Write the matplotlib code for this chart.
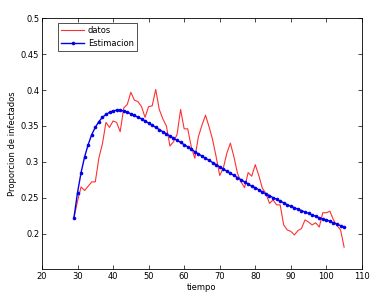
import matplotlib
matplotlib.use("Agg")
import matplotlib.pyplot as plt

tiempo = list(range(29, 106))
datos = [0.222, 0.245, 0.265, 0.260, 0.266, 0.272, 0.272, 0.305, 0.325, 0.355,
         0.348, 0.357, 0.355, 0.342, 0.375, 0.380, 0.397, 0.386, 0.384, 0.377,
         0.362, 0.377, 0.378, 0.401, 0.373, 0.360, 0.350, 0.322, 0.328, 0.338,
         0.373, 0.346, 0.346, 0.321, 0.305, 0.335, 0.351, 0.365, 0.349, 0.331,
         0.307, 0.281, 0.291, 0.312, 0.326, 0.307, 0.284, 0.272, 0.264, 0.285,
         0.280, 0.296, 0.281, 0.263, 0.256, 0.242, 0.247, 0.240, 0.240, 0.212,
         0.205, 0.203, 0.198, 0.204, 0.207, 0.219, 0.216, 0.212, 0.215, 0.209,
         0.229, 0.229, 0.231, 0.219, 0.211, 0.205, 0.181]
estimacion = [0.222, 0.257, 0.285, 0.307, 0.324, 0.338, 0.348, 0.356, 0.362, 0.366,
              0.369, 0.371, 0.372, 0.372, 0.371, 0.369, 0.367, 0.365, 0.362, 0.360,
              0.357, 0.354, 0.351, 0.348, 0.345, 0.342, 0.339, 0.336, 0.333, 0.330,
              0.327, 0.324, 0.321, 0.318, 0.314, 0.311, 0.308, 0.305, 0.302, 0.299,
              0.296, 0.293, 0.290, 0.287, 0.284, 0.281, 0.278, 0.275, 0.272, 0.269,
              0.266, 0.264, 0.261, 0.258, 0.255, 0.253, 0.250, 0.248, 0.245, 0.243,
              0.240, 0.238, 0.236, 0.234, 0.232, 0.230, 0.228, 0.226, 0.224, 0.222,
              0.220, 0.219, 0.217, 0.215, 0.213, 0.211, 0.209]
xticks = [20, 30, 40, 50, 60, 70, 80, 90, 100, 110]
yticks = [0.2, 0.25, 0.3, 0.35, 0.4, 0.45, 0.5]

fig = plt.figure(figsize=(3.85, 2.97), dpi=100)
ax = fig.add_axes([0.109, 0.093, 0.831, 0.845])
ax.plot(tiempo, datos, color='#ff3030', lw=0.8, label='datos')
ax.plot(tiempo, estimacion, color='#0000ee', lw=1.0, marker='o', markersize=2.6,
        markeredgewidth=0, label='Estimacion')
ax.set_xlim(20, 110)
ax.set_ylim(0.15, 0.5)
ax.set_xticks(xticks)
ax.set_yticks(yticks)
ax.set_yticklabels(['0.2', '0.25', '0.3', '0.35', '0.4', '0.45', '0.5'])
ax.tick_params(direction='in', top=True, right=True, labelsize=6, length=3, width=0.5, pad=2)
for s in ax.spines.values():
    s.set_linewidth(0.6)
ax.set_xlabel('tiempo', fontsize=6, labelpad=1)
ax.set_ylabel('Proporcion de infectados', fontsize=6, labelpad=3)
leg = ax.legend(loc='upper left', fontsize=6, frameon=True, fancybox=False,
                edgecolor='black', handlelength=2.7, handletextpad=0.5,
                borderpad=0.4, borderaxespad=0,
                bbox_to_anchor=(0.05, 0.982), labelspacing=0.4)
leg.get_frame().set_linewidth(0.6)
fig.savefig('out.png', dpi=100)
